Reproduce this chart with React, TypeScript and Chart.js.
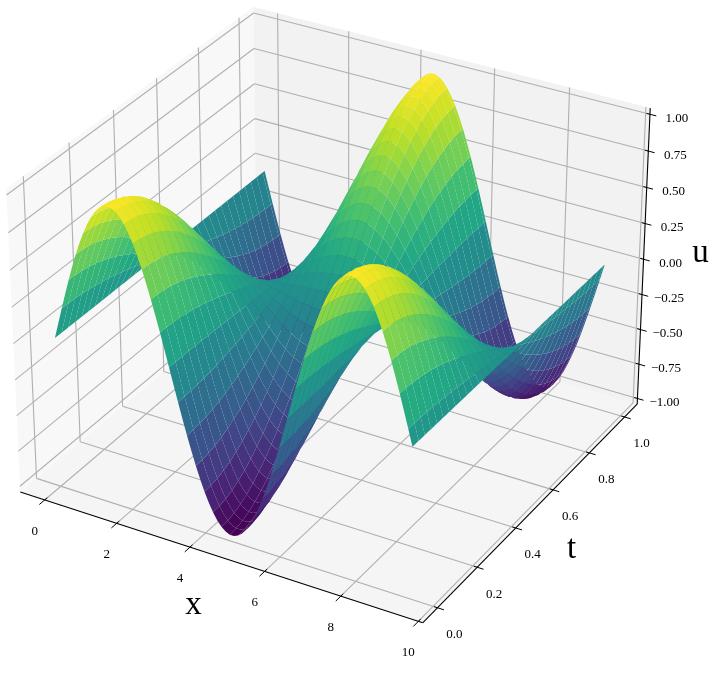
import React, { useEffect, useRef } from "react";
import { Chart, registerables } from "chart.js";

Chart.register(...registerables);

// Surface samples. The surface is separable by eye: it has the
// same profile along x at every t, scaled by an amplitude along t, so the height
// table is built as (profile at x) * (amplitude at t).
const xGrid = [0, 0.111, 0.222, 0.333, 0.444, 0.554, 0.665, 0.776, 0.887, 0.998, 1.109, 1.22, 1.331, 1.441, 1.552, 1.663, 1.774, 1.885, 1.996, 2.107, 2.218, 2.328, 2.439, 2.55, 2.661, 2.772, 2.883, 2.994, 3.105, 3.215, 3.326, 3.437, 3.548, 3.659, 3.77, 3.881, 3.992, 4.103, 4.213, 4.324, 4.435, 4.546, 4.657, 4.768, 4.879, 4.99, 5.1, 5.211, 5.322, 5.433, 5.544, 5.655, 5.766, 5.877, 5.988, 6.098, 6.209, 6.32, 6.431, 6.542, 6.653, 6.764, 6.875, 6.985, 7.096, 7.207, 7.318, 7.429, 7.54, 7.651, 7.762, 7.872, 7.983, 8.094, 8.205, 8.316, 8.427, 8.538, 8.649, 8.76, 8.87, 8.981, 9.092, 9.203, 9.314, 9.425];
const profileAlongX = [0, 0.1106, 0.2199, 0.3265, 0.4291, 0.5264, 0.6172, 0.7005, 0.7752, 0.8405, 0.8952, 0.939, 0.9713, 0.9916, 0.9998, 0.9957, 0.9794, 0.9511, 0.911, 0.8598, 0.798, 0.7265, 0.6461, 0.5577, 0.4624, 0.3612, 0.2558, 0.1473, 0.037, -0.0738, -0.1837, -0.2914, -0.3955, -0.4946, -0.5878, -0.6737, -0.7513, -0.8197, -0.8781, -0.9256, -0.9618, -0.9862, -0.9985, -0.9985, -0.9862, -0.9618, -0.9256, -0.8781, -0.8197, -0.7513, -0.6737, -0.5878, -0.4946, -0.3955, -0.2914, -0.1837, -0.0738, 0.037, 0.1473, 0.2558, 0.3612, 0.4624, 0.5577, 0.6461, 0.7265, 0.798, 0.8598, 0.911, 0.9511, 0.9794, 0.9957, 0.9998, 0.9916, 0.9713, 0.939, 0.8952, 0.8405, 0.7752, 0.7005, 0.6172, 0.5264, 0.4291, 0.3265, 0.2199, 0.1106, 0];
const tGrid = [0, 0.01, 0.02, 0.03, 0.04, 0.05, 0.06, 0.07, 0.08, 0.09, 0.1, 0.11, 0.12, 0.13, 0.14, 0.15, 0.16, 0.17, 0.18, 0.19, 0.2, 0.21, 0.22, 0.23, 0.24, 0.25, 0.26, 0.27, 0.28, 0.29, 0.3, 0.31, 0.32, 0.33, 0.34, 0.35, 0.36, 0.37, 0.38, 0.39, 0.4, 0.41, 0.42, 0.43, 0.44, 0.45, 0.46, 0.47, 0.48, 0.49, 0.5, 0.51, 0.52, 0.53, 0.54, 0.55, 0.56, 0.57, 0.58, 0.59, 0.6, 0.61, 0.62, 0.63, 0.64, 0.65, 0.66, 0.67, 0.68, 0.69, 0.7, 0.71, 0.72, 0.73, 0.74, 0.75, 0.76, 0.77, 0.78, 0.79, 0.8, 0.81, 0.82, 0.83, 0.84, 0.85, 0.86, 0.87, 0.88, 0.89, 0.9, 0.91, 0.92, 0.93, 0.94, 0.95, 0.96, 0.97, 0.98, 0.99, 1];
const amplitudeAlongT = [1, 0.9995, 0.998, 0.9956, 0.9921, 0.9877, 0.9823, 0.9759, 0.9686, 0.9603, 0.9511, 0.9409, 0.9298, 0.9178, 0.9048, 0.891, 0.8763, 0.8607, 0.8443, 0.8271, 0.809, 0.7902, 0.7705, 0.7501, 0.729, 0.7071, 0.6845, 0.6613, 0.6374, 0.6129, 0.5878, 0.5621, 0.5358, 0.509, 0.4818, 0.454, 0.4258, 0.3971, 0.3681, 0.3387, 0.309, 0.279, 0.2487, 0.2181, 0.1874, 0.1564, 0.1253, 0.0941, 0.0628, 0.0314, 0, -0.0314, -0.0628, -0.0941, -0.1253, -0.1564, -0.1874, -0.2181, -0.2487, -0.279, -0.309, -0.3387, -0.3681, -0.3971, -0.4258, -0.454, -0.4818, -0.509, -0.5358, -0.5621, -0.5878, -0.6129, -0.6374, -0.6613, -0.6845, -0.7071, -0.729, -0.7501, -0.7705, -0.7902, -0.809, -0.8271, -0.8443, -0.8607, -0.8763, -0.891, -0.9048, -0.9178, -0.9298, -0.9409, -0.9511, -0.9603, -0.9686, -0.9759, -0.9823, -0.9877, -0.9921, -0.9956, -0.998, -0.9995, -1];
const xStride = 2;
const tStride = 3;

const xTicks = [0, 2, 4, 6, 8, 10];
const tTicks = [0, 0.2, 0.4, 0.6, 0.8, 1];
const uTicks = [-1, -0.75, -0.5, -0.25, 0, 0.25, 0.5, 0.75, 1];
const xTickLabels = ["0", "2", "4", "6", "8", "10"];
const tTickLabels = ["0.0", "0.2", "0.4", "0.6", "0.8", "1.0"];
const uTickLabels = ["\u22121.00", "\u22120.75", "\u22120.50", "\u22120.25", "0.00", "0.25", "0.50", "0.75", "1.00"];

const viridis = [[68, 1, 84], [72, 36, 117], [65, 68, 135], [53, 95, 141], [42, 120, 142], [33, 145, 140], [34, 168, 132], [68, 191, 112], [122, 209, 81], [189, 223, 38], [253, 231, 37]];

// Axis limits and view
const xLim = [-0.687, 10.112];
const tLim = [-0.0729, 1.0729];
const uLim = [-1.0417, 1.0417];
const W = 725, H = 688;
const SCALE = 4035, CX = 334.2, CY = 300.7;
const BOX = [1.14286, 1.14286, 0.85714];
const DIST = 10;
const elev = (30 * Math.PI) / 180;
const azim = (-60 * Math.PI) / 180;
const wv = [Math.cos(elev) * Math.cos(azim), Math.cos(elev) * Math.sin(azim), Math.sin(elev)];
const uv = [-Math.sin(azim), Math.cos(azim), 0];
const vv = [wv[1] * uv[2] - wv[2] * uv[1], wv[2] * uv[0] - wv[0] * uv[2], wv[0] * uv[1] - wv[1] * uv[0]];
const dot = (a: number[], b: number[]) => a[0] * b[0] + a[1] * b[1] + a[2] * b[2];

function rel(x: number, t: number, u: number) {
  return [
    ((x - xLim[0]) / (xLim[1] - xLim[0]) - 0.5) * BOX[0],
    ((t - tLim[0]) / (tLim[1] - tLim[0]) - 0.5) * BOX[1],
    ((u - uLim[0]) / (uLim[1] - uLim[0]) - 0.5) * BOX[2],
  ];
}
function project(x: number, t: number, u: number) {
  const p = rel(x, t, u);
  const d = DIST - dot(wv, p);
  return { x: dot(uv, p) / d, y: dot(vv, p) / d };
}
function depth(x: number, t: number, u: number) {
  return dot(wv, rel(x, t, u));
}
function colour(v: number) {
  const f = Math.max(0, Math.min(1, (v + 1) / 2)) * (viridis.length - 1);
  const i = Math.min(viridis.length - 2, Math.floor(f));
  const k = f - i;
  const c = viridis[i].map((a, n) => Math.round(a + (viridis[i + 1][n] - a) * k));
  return `rgb(${c[0]},${c[1]},${c[2]})`;
}

const GRID = "#b0b0b0";
const uAt = (i: number, j: number) => profileAlongX[i] * amplitudeAlongT[j];

function surfaceDatasets() {
  const cells: any[] = [];
  const lastT = tGrid.length - 1;
  const lastX = xGrid.length - 1;
  for (let j = 0; j < lastT; j += tStride) {
    const tSpan = Math.min(tStride, lastT - j);
    for (let i = 0; i < lastX; i += xStride) {
      const xSpan = Math.min(xStride, lastX - i);
      // Perimeter of one cell: it keeps the intermediate samples of all four sides.
      const edge: [number, number][] = [];
      for (let k = 0; k < xSpan; k++) edge.push([i + k, j]);
      for (let k = 0; k < tSpan; k++) edge.push([i + xSpan, j + k]);
      for (let k = xSpan; k > 0; k--) edge.push([i + k, j + tSpan]);
      for (let k = tSpan; k > 0; k--) edge.push([i, j + k]);
      const mean = edge.reduce((s, [a, b]) => s + uAt(a, b), 0) / edge.length;
      const dep = edge.reduce((s, [a, b]) => s + depth(xGrid[a], tGrid[b], uAt(a, b)), 0) / edge.length;
      cells.push({
        dep,
        ds: {
          data: edge.map(([a, b]) => project(xGrid[a], tGrid[b], uAt(a, b))),
          showLine: true, pointRadius: 0, borderWidth: 0, fill: "shape",
          backgroundColor: colour(mean), borderColor: "transparent", clip: false,
        },
      });
    }
  }
  cells.sort((a, b) => b.dep - a.dep); // nearest first: Chart.js paints the first dataset last
  return cells.map((c) => c.ds);
}
function line(a: number[], b: number[], color: string, width: number) {
  return {
    data: [project(a[0], a[1], a[2]), project(b[0], b[1], b[2])],
    showLine: true, pointRadius: 0, borderWidth: width, borderColor: color, fill: false, clip: false,
  };
}
function pane(pts: number[][], color: string) {
  return {
    data: pts.map((p) => project(p[0], p[1], p[2])),
    showLine: true, pointRadius: 0, borderWidth: 0, fill: "shape",
    backgroundColor: color, borderColor: "transparent", clip: false,
  };
}

const [x0, x1] = xLim, [t0, t1] = tLim, [u0, u1] = uLim;
const X_OUT = 0.165, X_IN = 0.09, T_OUT = 0.024, T_IN = 0.012;

function frameDatasets() {
  const out: any[] = [];
  out.push(line([x0, t0, u0], [x1, t0, u0], "#000", 1.1));
  out.push(line([x1, t0, u0], [x1, t1, u0], "#000", 1.1));
  out.push(line([x1, t1, u0], [x1, t1, u1], "#000", 1.1));
  xTicks.forEach((x) => out.push(line([x, t0 - T_OUT, u0], [x, t0 + T_IN, u0], "#000", 1)));
  tTicks.forEach((t) => out.push(line([x1 + X_OUT, t, u0], [x1 - X_IN, t, u0], "#000", 1)));
  uTicks.forEach((u) => out.push(line([x1 + X_OUT, t1, u], [x1 - X_IN, t1, u], "#000", 1)));
  xTicks.forEach((x) => {
    out.push(line([x, t0, u0], [x, t1, u0], GRID, 1.1));
    out.push(line([x, t1, u0], [x, t1, u1], GRID, 1.1));
  });
  tTicks.forEach((t) => {
    out.push(line([x0, t, u0], [x1, t, u0], GRID, 1.1));
    out.push(line([x0, t, u0], [x0, t, u1], GRID, 1.1));
  });
  uTicks.forEach((u) => {
    out.push(line([x0, t0, u], [x0, t1, u], GRID, 1.1));
    out.push(line([x0, t1, u], [x1, t1, u], GRID, 1.1));
  });
  out.push(pane([[x0, t0, u0], [x0, t1, u0], [x0, t1, u1], [x0, t0, u1]], "rgba(242,242,242,0.5)"));
  out.push(pane([[x0, t1, u0], [x1, t1, u0], [x1, t1, u1], [x0, t1, u1]], "rgba(230,230,230,0.5)"));
  out.push(pane([[x0, t0, u0], [x1, t0, u0], [x1, t1, u0], [x0, t1, u0]], "rgba(236,236,236,0.5)"));
  return out;
}

const textPlugin = {
  id: "axisText",
  afterDraw(chart: any) {
    const { ctx, scales } = chart;
    const px = (p: { x: number; y: number }) => [scales.x.getPixelForValue(p.x), scales.y.getPixelForValue(p.y)];
    ctx.save();
    ctx.fillStyle = "#000";
    ctx.textAlign = "center";
    ctx.textBaseline = "middle";
    ctx.font = "13px 'Liberation Serif'";
    xTicks.forEach((x, i) => {
      const [a, b] = px(project(x, t0, u0));
      ctx.fillText(xTickLabels[i], a - 10, b + 31.5);
    });
    tTicks.forEach((t, i) => {
      const [a, b] = px(project(x1, t, u0));
      ctx.fillText(tTickLabels[i], a + 17, b + 27);
    });
    uTicks.forEach((u, i) => {
      const [a, b] = px(project(x1, t1, u));
      ctx.fillText(uTickLabels[i], a + 27, b + 4);
    });
    ctx.font = "33px 'Liberation Serif'";
    const xl = px(project((x0 + x1) / 2, t0, u0));
    ctx.fillText("x", xl[0] - 23, xl[1] + 50);
    const tl = px(project(x1, (t0 + t1) / 2, u0));
    ctx.fillText("t", tl[0] + 37, tl[1] + 41);
    const ul = px(project(x1, t1, (u0 + u1) / 2));
    ctx.fillText("u", ul[0] + 57, ul[1] - 6);
    ctx.restore();
  },
};

export default function App() {
  const ref = useRef<HTMLCanvasElement | null>(null);
  useEffect(() => {
    document.body.style.margin = "0";
    const chart = new Chart(ref.current as HTMLCanvasElement, {
      type: "scatter",
      data: { datasets: [...surfaceDatasets(), ...frameDatasets()] as any },
      options: {
        animation: false,
        responsive: false,
        events: [],
        layout: { padding: 0 },
        plugins: { legend: { display: false }, tooltip: { enabled: false }, filler: { propagate: false } },
        scales: {
          x: { type: "linear", display: false, min: -CX / SCALE, max: (W - CX) / SCALE },
          y: { type: "linear", display: false, min: (CY - H) / SCALE, max: CY / SCALE },
        },
      } as any,
      plugins: [textPlugin],
    });
    return () => chart.destroy();
  }, []);
  return <canvas ref={ref} width={W} height={H} style={{ display: "block" }} />;
}
